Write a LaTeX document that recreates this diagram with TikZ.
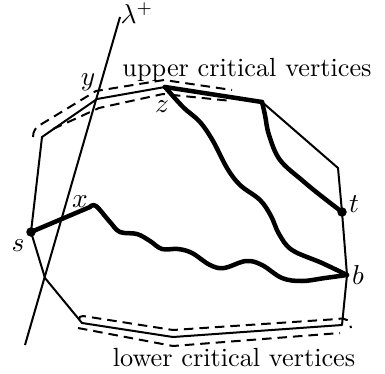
\documentclass[tikz,border=0pt]{standalone}
\usepackage{amsmath,amssymb}
\usetikzlibrary{calc}

\begin{document}
\begin{tikzpicture}[
  x=0.4pt, y=-0.4pt,
  font=\fontsize{10.5}{12}\selectfont,
  edge/.style={line width=0.8pt, line join=round},
  route/.style={line width=1.8pt, line cap=round, line join=round},
  band/.style={line width=0.8pt, dash pattern=on 3.8pt off 2.4pt},
  dot/.style={circle, fill, inner sep=0pt, minimum size=3.8pt},
  lbl/.style={inner sep=1pt}
]
\useasboundingbox (0,0) rectangle (385,373);
\coordinate (ul) at (42,137);
\coordinate (y) at (97,99);
\coordinate (z) at (165,87);
\coordinate (ur) at (262,102);
\coordinate (r) at (338,168);
\coordinate (t) at (342,212);
\coordinate (b) at (347,275);
\coordinate (lr) at (342,325);
\coordinate (lm) at (173,337);
\coordinate (ll) at (82,323);
\coordinate (lo) at (45,278);
\coordinate (s) at (31,232);
\coordinate (x) at (90,207);
\coordinate (ltop) at (120,17);
\coordinate (lbot) at (25,345);
\draw[edge] (s) -- (ul) -- (y) -- (z);
\draw[edge] (ur) -- (r) -- (t) -- (b) -- (lr) -- (lm) -- (ll) -- (lo) -- (s);
\draw[edge] (lbot) -- (ltop);
\draw[route] (z) -- (ur);
\draw[route] (s) -- (x);
\draw[route] plot[smooth, tension=0.6] coordinates {(x) (96,206) (110,222) (120,232)
  (137,234) (150,241) (162,249) (178,249) (192,253) (210,265) (224,268) (246,261)
  (262,265) (282,278) (302,281) (325,278) (b)};
\draw[route] plot[smooth, tension=0.6] coordinates {(z) (183,107) (200,122) (213,141)
  (227,168) (240,185) (260,200) (271,216) (279,234) (292,250) (322,263) (b)};
\draw[route] plot[smooth, tension=0.6] coordinates {(ur) (265,115) (269,135) (280,160)
  (303,181) (320,195) (t)};
\draw[band] (33,137) .. controls (33,131) and (36,127) .. (40,125) -- (96,91) -- (164,80) -- (232,90);
\draw[band] (53,129) -- (99,108) -- (163,94) -- (232,101);
\draw[band] (79,320) .. controls (79,317) and (80,316) .. (83,316) -- (173,330) -- (338,319)
  .. controls (346,317) and (350,321) .. (351,328);
\draw[band] (78,328) -- (173,346) -- (340,333);
\node[dot] (sdot) at (s) {};
\node[dot] (tdot) at (t) {};
\node[lbl] (lam) at (137,13) {$\lambda^+$};
\node[lbl] (upper) at (247,70) {upper critical vertices};
\node[lbl] (lower) at (234,358) {lower critical vertices};
\node[lbl] (ylbl) at (88,82) {$y$};
\node[lbl] (zlbl) at (162,107) {$z$};
\node[lbl] (xlbl) at (80,202) {$x$};
\node[lbl] (slbl) at (18,246) {$s$};
\node[lbl] (tlbl) at (354,204) {$t$};
\node[lbl] (blbl) at (358,275) {$b$};
\end{tikzpicture}
\end{document}
